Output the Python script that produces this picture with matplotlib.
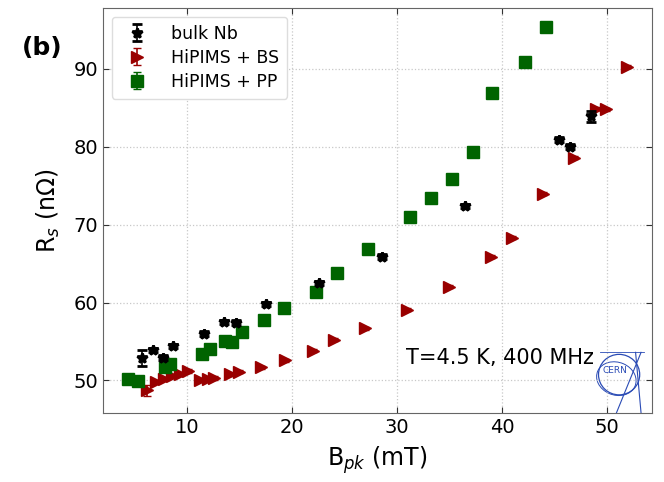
import numpy as np
import matplotlib
matplotlib.use("Agg")
import matplotlib.pyplot as plt
from matplotlib.patches import Ellipse

# bulk Nb
nb_b = [5.7, 6.8, 7.7, 8.7, 11.6, 13.5, 14.7, 17.5, 22.6, 28.6, 36.5, 45.4, 46.5, 48.5]
nb_rs = [52.9, 53.9, 52.9, 54.4, 56.0, 57.5, 57.4, 59.8, 62.5, 65.9, 72.4, 80.9, 80.0, 83.9]
nb_err = [1.0, 0.3, 0.3, 0.3, 0.3, 0.3, 0.3, 0.3, 0.3, 0.3, 0.3, 0.3, 0.3, 0.7]

# HiPIMS + BS
bs_b = [6.2, 7.1, 7.8, 8.6, 9.3, 10.1, 11.2, 12.0, 12.6, 14.1, 15.0, 17.1, 19.3,
        22.0, 24.0, 27.0, 31.0, 35.0, 39.0, 41.0, 43.9, 46.9, 49.0, 49.9, 51.9]
bs_rs = [48.7, 49.8, 50.2, 50.6, 50.8, 51.2, 50.1, 50.2, 50.3, 50.8, 51.1, 51.7, 52.6,
         53.8, 55.2, 56.7, 59.1, 62.0, 65.9, 68.3, 74.0, 78.6, 84.9, 84.8, 90.3]
bs_err = [0.7] + [0.2] * 24

# HiPIMS + PP
pp_b = [4.4, 5.3, 7.9, 8.4, 11.4, 12.2, 13.6, 14.3, 15.2, 17.3, 19.2, 22.3,
        24.3, 27.2, 31.2, 33.2, 35.2, 37.2, 39.1, 42.2, 44.2]
pp_rs = [50.2, 49.9, 51.7, 52.1, 53.4, 54.0, 55.1, 54.9, 56.2, 57.7, 59.3, 61.4,
         63.8, 66.9, 71.0, 73.4, 75.9, 79.3, 86.9, 90.9, 95.4]
pp_err = [0.3] * 21

fig = plt.figure(figsize=(6.64, 4.82), dpi=100)
ax = fig.add_axes([0.155, 0.143, 0.827, 0.840])

ax.errorbar(nb_b, nb_rs, yerr=nb_err, fmt="*", color="black", markersize=7,
            markeredgewidth=2.0, capsize=3.5, elinewidth=1.2, label="bulk Nb", zorder=4)
ax.errorbar(bs_b, bs_rs, yerr=bs_err, fmt=">", color="#990000", markersize=9,
            capsize=3, elinewidth=1.2, label="HiPIMS + BS", zorder=3)
ax.errorbar(pp_b, pp_rs, yerr=pp_err, fmt="s", color="#006400", markersize=8,
            capsize=3, elinewidth=1.2, label="HiPIMS + PP", zorder=3)

ax.set_xlim(2.0, 54.3)
ax.set_ylim(45.8, 97.8)
ax.set_xticks([10, 20, 30, 40, 50])
ax.set_yticks([50, 60, 70, 80, 90])
ax.grid(True, linestyle=":", color="#c8c8c8", linewidth=0.9)
ax.tick_params(direction="in", top=True, right=True, labelsize=14, length=4,
               color="#333333")
for s in ax.spines.values():
    s.set_color("#666666")

ax.set_xlabel(r"B$_{pk}$ (mT)", fontsize=17, labelpad=5)
ax.set_ylabel(r"R$_{s}$ (n$\Omega$)", fontsize=17, labelpad=8)

ax.legend(loc="upper left", fontsize=12.5, frameon=True, framealpha=1,
          edgecolor="#dddddd", handletextpad=1.0, borderpad=0.45,
          labelspacing=0.35, bbox_to_anchor=(0.0, 1.0))

ax.text(30.9, 52.9, "T=4.5 K, 400 MHz", fontsize=15, va="center", ha="left")
fig.text(0.033, 0.885, "(b)", fontsize=18, fontweight="bold")

# rough CERN logo
blue = "#2a4bb5"
lx, ly = 0.94, 0.095
ax.add_patch(Ellipse((lx, ly), 0.075, 0.10, transform=ax.transAxes,
                     fill=False, edgecolor=blue, linewidth=0.9))
ax.add_patch(Ellipse((lx - 0.005, ly - 0.01), 0.07, 0.085, angle=20,
                     transform=ax.transAxes, fill=False, edgecolor=blue, linewidth=0.7))
ax.plot([0.97, 0.98], [0.15, 0.0], color=blue, lw=0.8, transform=ax.transAxes)
ax.plot([0.935, 0.98], [0.0, 0.15], color=blue, lw=0.8, transform=ax.transAxes)
ax.plot([0.905, 0.985], [0.15, 0.15], color=blue, lw=0.6, transform=ax.transAxes)
ax.text(lx - 0.008, ly + 0.01, "CERN", fontsize=6.5, color=blue, ha="center",
        va="center", transform=ax.transAxes)

fig.savefig("out.png", dpi=100)
